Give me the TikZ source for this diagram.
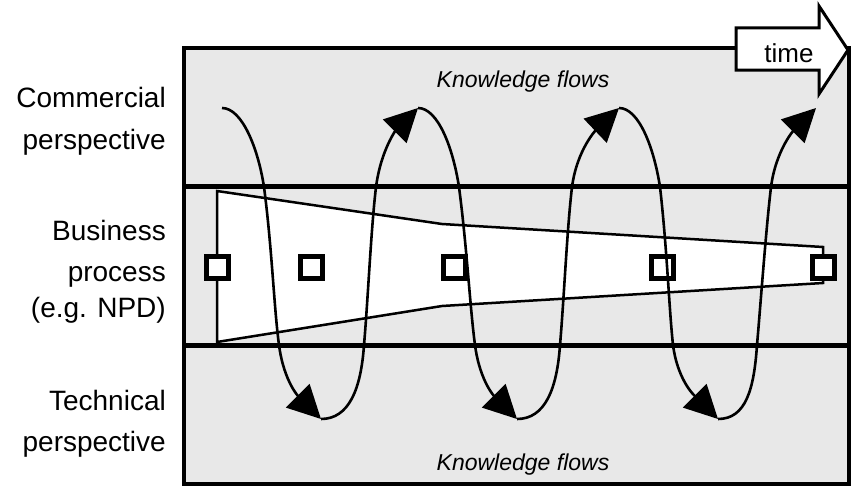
\documentclass[tikz,border=0pt]{standalone}
\usepackage{fontspec}
\setmainfont{Liberation Sans}
\usetikzlibrary{arrows.meta}
\definecolor{bg}{RGB}{232,232,232}
\begin{document}
\begin{tikzpicture}[x=1pt,y=-1pt,
  lbl/.style={anchor=base east,inner sep=0pt,font=\fontsize{28}{34}\selectfont},
  kf/.style={anchor=base,inner sep=0pt,font=\fontsize{23}{28}\selectfont\itshape},
  frameline/.style={line width=4.5pt},
  funnel/.style={line width=2.5pt,fill=white,line join=miter},
  flow/.style={line width=2.6pt,-{Triangle[length=33pt,width=33pt]}},
  milestone/.style={draw,line width=5pt,fill=white,minimum size=22pt,inner sep=0pt}]
\useasboundingbox (0,0) rectangle (856,487);
% background of the frame
\fill[bg] (184,48) rectangle (849,484);
% band separators
\draw[frameline] (184,186.5) -- (849,186.5);
\draw[frameline] (184,345.5) -- (849,345.5);
% funnel (business process)
\draw[funnel] (217,191) -- (442,224) -- (823,247) -- (823,283) -- (442,306) -- (217,342) -- cycle;
% milestones
\node[milestone] (m1) at (217,267) {};
\node[milestone] (m2) at (311,267) {};
\node[milestone] (m3) at (454,267) {};
\node[milestone] (m4) at (662,267) {};
\node[milestone] (m5) at (823,267) {};
% knowledge flow spiral
\draw[flow] (222,108) .. controls (242,108) and (258,148) .. (264,187) .. controls (272,248) and (274,308) .. (279,345) .. controls (284,383) and (300,398) .. (321,419);
\draw[flow] (321,419) .. controls (349,419) and (361,389) .. (364,345) .. controls (368,299) and (371,229) .. (376,187) .. controls (381,149) and (397,129) .. (418,108);
\draw[flow] (418,108) .. controls (438,108) and (453,148) .. (459,187) .. controls (467,248) and (470,308) .. (475,345) .. controls (480,383) and (496,398) .. (517,419);
\draw[flow] (517,419) .. controls (545,419) and (557,389) .. (560,345) .. controls (564,299) and (567,229) .. (572,187) .. controls (577,149) and (597,129) .. (619,108);
\draw[flow] (619,108) .. controls (639,108) and (654,148) .. (660,187) .. controls (667,248) and (669,308) .. (673,345) .. controls (678,383) and (697,398) .. (718,419);
\draw[flow] (718,419) .. controls (746,419) and (754,389) .. (757,345) .. controls (761,299) and (766,229) .. (771,187) .. controls (776,149) and (795,129) .. (816,108);
% frame
\draw[frameline] (184,48) rectangle (849,484);
% time arrow
\draw[line width=3pt,fill=white,line join=miter] (736,28) -- (819,28) -- (819,6) -- (848,50) -- (819,94) -- (819,70) -- (736,70) -- cycle;
\node[anchor=base,inner sep=0pt,font=\fontsize{26}{30}\selectfont] (time) at (789,63) {time};
% texts
\node[kf] (kftop) at (523,87) {Knowledge flows};
\node[kf] (kfbot) at (523,470) {Knowledge flows};
\node[lbl] (c1) at (166,107) {Commercial};
\node[lbl] (c2) at (166,149) {perspective};
\node[lbl] (b1) at (166,240) {Business};
\node[lbl] (b2) at (166,281) {process};
\node[lbl] (b3) at (166,317) {(e.g. NPD)};
\node[lbl] (t1) at (166,410) {Technical};
\node[lbl] (t2) at (166,451) {perspective};
\end{tikzpicture}
\end{document}
